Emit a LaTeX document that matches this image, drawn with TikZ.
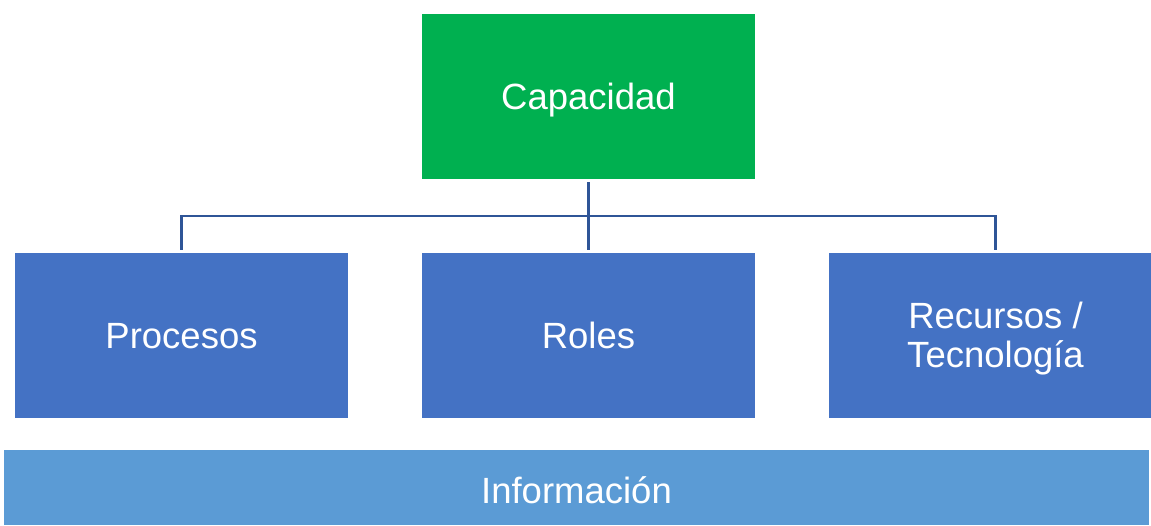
\documentclass[tikz,border=0pt]{standalone}
\usepackage{fontspec}
\setmainfont{Liberation Sans}
\definecolor{capgreen}{HTML}{00B050}
\definecolor{boxblue}{HTML}{4472C4}
\definecolor{infoblue}{HTML}{5B9BD5}
\definecolor{lineblue}{HTML}{2F5597}
\tikzset{
  box/.style={fill=boxblue, draw=none, inner sep=0pt, minimum width=333pt, minimum height=165pt,
    text=white, align=center, font=\fontsize{36.5}{39.5}\selectfont,
    text height=33pt, text depth=7.6pt},
  twoline/.style={text height=72pt, text depth=7.6pt},
  capbox/.style={box, fill=capgreen},
  infobox/.style={box, fill=infoblue, minimum width=1145pt, minimum height=75pt, text height=39pt},
  conn/.style={draw=lineblue, line width=2.5pt}
}
\begin{document}
\begin{tikzpicture}[x=1pt,y=1pt]
\useasboundingbox (0,0) rectangle (1151,525);
\node[capbox] (cap) at (588.5,428.5) {Capacidad};
\node[box] (proc) at (181.5,189.5) {Procesos};
\node[box] (roles) at (588.5,189.5) {Roles};
\node[box, twoline] (rec) at (995.5,189.5) {Recursos /\\Tecnología};
\node[infobox] (info) at (576.5,37.5) {Información};
\draw[conn] ([yshift=-3pt]cap.south) -- ([yshift=3pt]roles.north);
\draw[conn] ([yshift=3pt]proc.north) -- ++(0,34) -| ([yshift=3pt]rec.north);
\end{tikzpicture}
\end{document}
